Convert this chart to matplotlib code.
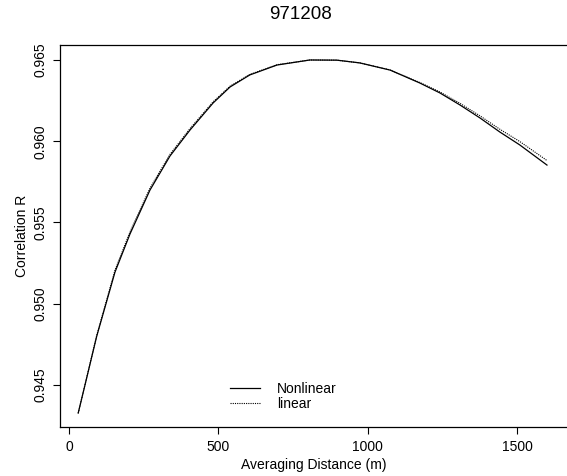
#!/usr/bin/env python3
"""
Correlation R versus averaging distance, nonlinear and linear fits (971208)
"""
import matplotlib
matplotlib.use("Agg")
from matplotlib import pyplot as plt

# values
distance = [31, 93, 154, 204, 271, 338, 405, 482, 539, 605, 696, 806,
            896, 973, 1074, 1174, 1241, 1308, 1375, 1441, 1508, 1599]
r_nonlinear = [0.94326, 0.94800, 0.95194, 0.95428, 0.95699, 0.95909,
               0.96069, 0.96235, 0.96334, 0.96408, 0.96469, 0.96500,
               0.96499, 0.96482, 0.96438, 0.96358, 0.96297, 0.96223,
               0.96143, 0.96057, 0.95977, 0.95853]
r_linear = [0.94326, 0.94805, 0.95206, 0.95441, 0.95711, 0.95919,
            0.96078, 0.96242, 0.96339, 0.96411, 0.96471, 0.96500,
            0.96499, 0.96482, 0.96439, 0.96361, 0.96303, 0.96233,
            0.96156, 0.96074, 0.95998, 0.95881]

x_ticks = [0, 500, 1000, 1500]
y_ticks = [0.945, 0.950, 0.955, 0.960, 0.965]

plt.rcParams['font.family'] = ['Liberation Sans', 'DejaVu Sans']

fig = plt.figure(figsize=(5.67, 4.76), dpi=100)
ax = fig.add_axes([0.1058, 0.1029, 0.8942, 0.8026])

ax.plot(distance, r_nonlinear, color='black', lw=0.9, label='Nonlinear')
ax.plot(distance, r_linear, color='black', lw=0.8, ls=(0, (1, 1)),
        label='linear')

ax.set_xlim(-30, 1666)
ax.set_ylim(0.942401, 0.965924)
ax.set_xticks(x_ticks)
ax.set_yticks(y_ticks)
ax.set_yticklabels(["{:.3f}".format(v) for v in y_ticks], rotation=90,
                   va='center')
ax.tick_params(axis='both', direction='out', length=5, width=0.8,
               labelsize=10, pad=4)
ax.spines['right'].set_visible(False)
for side in ['left', 'bottom', 'top']:
    ax.spines[side].set_linewidth(0.9)

ax.set_xlabel("Averaging Distance (m)", fontsize=10, labelpad=3)
ax.set_ylabel("Correlation R", fontsize=10, labelpad=3)
fig.text(0.53, 0.97, "971208", ha='center', va='center', fontsize=13.5)

ax.legend(loc='center', bbox_to_anchor=(0.44, 0.08), frameon=False,
          fontsize=10, handlelength=2.2, labelspacing=0.05,
          handletextpad=1.2)

fig.savefig("out.png", dpi=100)
